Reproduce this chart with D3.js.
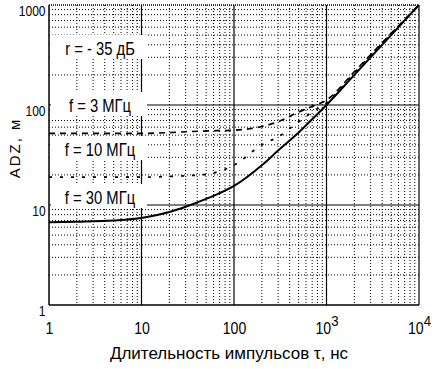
<!DOCTYPE html>
<html>
<head>
<meta charset="utf-8">
<script src="https://cdn.jsdelivr.net/npm/d3@7"></script>
<style>
  body { margin: 0; background: #fff; }
  svg { display: block; }
</style>
</head>
<body>
<div id="chart"></div>
<script>
// pulse duration, ns
const tau = [1, 2, 5, 10, 20, 30, 50, 100, 200, 300, 500, 700, 1000, 2000, 5000, 10000];
// ADZ, m
const adzSolid = [6.7, 6.8, 7.0, 7.4, 8.5, 9.6, 11.5, 15.5, 25, 35, 53, 72, 100, 200, 500, 1000];
const adz3MHz = [52, 52, 52, 52, 53, 54, 55, 56, 61, 68, 85, 97, 112, 215, 520, 1000];
const adz10MHz = [19, 19, 19, 19, 19.3, 19.6, 20.3, 25, 40, 48, 68, 85, 105, 210, 515, 1000];

const xTicks = [1, 10, 100, 1000, 10000];
const xTickText = ['1', '10', '100', '10^3', '10^4'];
const yTicks = [1, 10, 100, 1000];
const labels = ['r = - 35 дБ', 'f = 3 МГц', 'f = 10 МГц', 'f = 30 МГц'];
const labelY = [49, 106, 150, 198];

const margin = { top: 5, right: 15, bottom: 64, left: 49 };
const width = 434 - margin.left - margin.right;
const height = 369 - margin.top - margin.bottom;
const fontName = 'Liberation Sans, Arial, sans-serif';

const svg = d3.select('#chart').append('svg')
    .attr('width', 434)
    .attr('height', 369);
svg.append('rect').attr('width', 434).attr('height', 369).attr('fill', '#fff');

const g = svg.append('g')
    .attr('transform', 'translate(' + margin.left + ',' + margin.top + ')');

const xScale = d3.scaleLog().domain([1, 10000]).range([0, width]);
const yScale = d3.scaleLog().domain([1, 1000]).range([height, 0]);

// minor grid (dotted)
let minorX = [], minorY = [];
for (let d = 1; d < 10000; d *= 10) {
    for (let k = 2; k < 10; k++) {
        minorX.push(d * k);
        if (d < 1000) minorY.push(d * k);
    }
}
g.append('g').selectAll('line').data(minorX).enter().append('line')
    .attr('x1', d => xScale(d)).attr('x2', d => xScale(d))
    .attr('y1', 0).attr('y2', height)
    .attr('stroke', '#000').attr('stroke-width', 1).attr('stroke-dasharray', '1,2');
g.append('g').selectAll('line').data(minorY).enter().append('line')
    .attr('y1', d => yScale(d)).attr('y2', d => yScale(d))
    .attr('x1', 0).attr('x2', width)
    .attr('stroke', '#000').attr('stroke-width', 1).attr('stroke-dasharray', '1,2');

// major grid
g.append('g').selectAll('line').data([10, 100, 1000]).enter().append('line')
    .attr('x1', d => xScale(d)).attr('x2', d => xScale(d))
    .attr('y1', 0).attr('y2', height)
    .attr('stroke', '#000').attr('stroke-width', 1.2);
g.append('g').selectAll('line').data([10, 100]).enter().append('line')
    .attr('y1', d => yScale(d)).attr('y2', d => yScale(d))
    .attr('x1', 0).attr('x2', width)
    .attr('stroke', '#000').attr('stroke-width', 1.2);

// frame
g.append('line').attr('x1', 0).attr('x2', width).attr('y1', 0).attr('y2', 0)
    .attr('stroke', '#000').attr('stroke-width', 1.5).attr('stroke-dasharray', '1,1');
g.append('line').attr('x1', 0).attr('x2', 0).attr('y1', 0).attr('y2', height)
    .attr('stroke', '#000').attr('stroke-width', 1.5);
g.append('line').attr('x1', 0).attr('x2', width).attr('y1', height).attr('y2', height)
    .attr('stroke', '#000').attr('stroke-width', 1.5);
g.append('line').attr('x1', width).attr('x2', width).attr('y1', 0).attr('y2', height)
    .attr('stroke', '#000').attr('stroke-width', 1.2);

// curves
let line = d3.line()
    .x((d, i) => xScale(tau[i]))
    .y(d => yScale(d))
    .curve(d3.curveMonotoneX);

g.append('path').datum(adz3MHz)
    .attr('d', line).attr('fill', 'none')
    .attr('stroke', '#000').attr('stroke-width', 1.7).attr('stroke-dasharray', '6,5');
g.append('path').datum(adz10MHz)
    .attr('d', line).attr('fill', 'none')
    .attr('stroke', '#000').attr('stroke-width', 1.7).attr('stroke-dasharray', '3,8');
g.append('path').datum(adzSolid)
    .attr('d', line).attr('fill', 'none')
    .attr('stroke', '#000').attr('stroke-width', 2);

// labels on white boxes
let lab = g.append('g').selectAll('g').data(labels).enter().append('g')
    .attr('transform', (d, i) => 'translate(51,' + (labelY[i] - margin.top + 6) + ')');
lab.append('rect')
    .attr('x', -49).attr('y', -20)
    .attr('width', 96).attr('height', 24)
    .attr('fill', '#fff');
lab.append('text')
    .attr('transform', 'scale(0.78,1)')
    .attr('text-anchor', 'middle')
    .attr('font-family', fontName)
    .attr('font-size', 19)
    .text(d => d);

// axes
let xAxis = d3.axisBottom(xScale).tickValues(xTicks).tickSize(0).tickPadding(18)
    .tickFormat((d, i) => xTickText[i]);
let xg = g.append('g').attr('transform', 'translate(0,' + height + ')').call(xAxis);
xg.select('.domain').remove();
xg.selectAll('text')
    .attr('font-family', fontName)
    .attr('font-size', 16)
    .attr('fill', '#000')
    .attr('transform', 'scale(0.88,1)')
    .each(function (d, i) {
        let s = xTickText[i].split('^');
        if (s.length > 1) {
            let el = d3.select(this);
            el.text(s[0]);
            el.append('tspan').attr('dy', -8).attr('font-size', 15).text(s[1]);
        }
    });

let yAxis = d3.axisLeft(yScale).tickValues(yTicks).tickSize(0).tickPadding(4)
    .tickFormat(d3.format('d'));
let yg = g.append('g').call(yAxis);
yg.select('.domain').remove();
yg.selectAll('text')
    .attr('font-family', fontName)
    .attr('font-size', 14)
    .attr('fill', '#000')
    .attr('dy', '0.72em')
    .attr('transform', 'scale(0.86,1)');

// axis titles
svg.append('text')
    .attr('transform', 'translate(20,148) rotate(-90)')
    .attr('text-anchor', 'middle')
    .attr('font-family', fontName)
    .attr('font-size', 15)
    .attr('letter-spacing', 2)
    .text('ADZ, м');
svg.append('text')
    .attr('x', 229).attr('y', 359)
    .attr('text-anchor', 'middle')
    .attr('font-family', fontName)
    .attr('font-size', 17)
    .text('Длительность импульсов τ, нс');
</script>
</body>
</html>
